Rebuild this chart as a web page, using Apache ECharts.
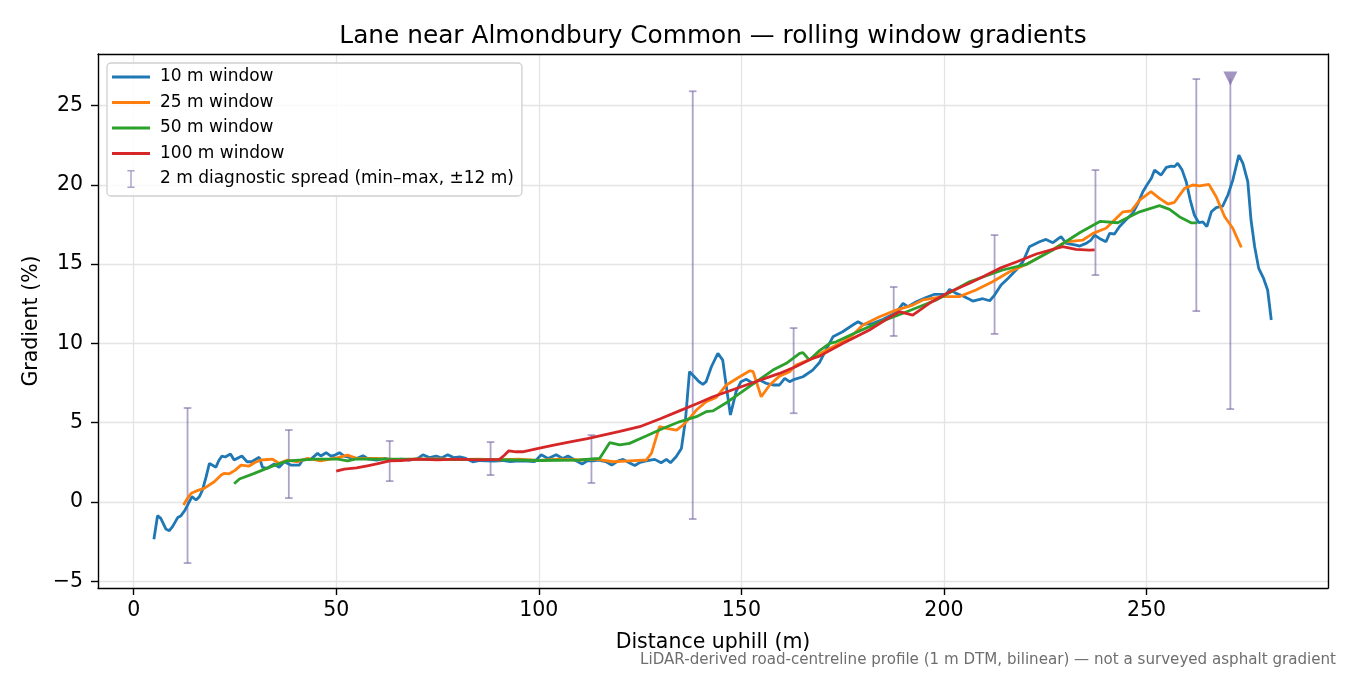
<!DOCTYPE html>
<html lang="en">
  <head>
    <meta charset="UTF-8" />
    <title>Rolling window gradients</title>
    <script src="https://cdn.jsdelivr.net/npm/echarts@6/dist/echarts.min.js"></script>
    <style>
      html, body { margin: 0; padding: 0; background: #fff; }
    </style>
  </head>
  <body>
    <div id="chart" style="width: 1350px; height: 675px"></div>
  </body>
  <script>
    // distance (m), gradient (%)
    const w10 = [
      [5, -2.35], [5.9, -0.86], [6.7, -1.03], [8, -1.72], [8.8, -1.8], [9.6, -1.55], [10.9, -0.97], [11.7, -0.86],
      [12.7, -0.5], [14.4, 0.34], [15.4, 0.13], [16.2, 0.33], [17, 0.76], [17.9, 1.6], [18.7, 2.44], [20.3, 2.19],
      [21, 2.6], [21.8, 2.9], [22.6, 2.84], [23.9, 3.03], [24.8, 2.65], [26.7, 2.9], [28, 2.54], [29.1, 2.54],
      [31, 2.82], [31.8, 2.19], [33, 2.13], [34.7, 2.4], [35.9, 2.19], [37.2, 2.54], [38.8, 2.33], [40.9, 2.33],
      [41.7, 2.65], [43.7, 2.7], [45.4, 3.07], [46.2, 2.9], [47.5, 3.11], [48.7, 2.9], [49.7, 2.96], [50.8, 3.11],
      [52, 2.9], [53.5, 2.8], [55, 2.75], [56.6, 2.92], [58, 2.7], [60, 2.65], [62, 2.75], [64, 2.62], [66, 2.7],
      [68, 2.65], [70, 2.72], [71.4, 2.98], [73, 2.8], [74.7, 2.9], [76, 2.78], [77.5, 2.98], [79, 2.8], [80.5, 2.85],
      [82, 2.75], [83.7, 2.54], [85.5, 2.62], [87, 2.6], [89, 2.58], [91, 2.62], [93, 2.55], [95, 2.6], [97, 2.58],
      [99, 2.55], [100.6, 2.98], [102.3, 2.75], [104.3, 2.98], [105.9, 2.75], [107.2, 2.9], [109.2, 2.6], [110.7, 2.4],
      [112, 2.6], [113.4, 2.6], [114.7, 2.65], [116.5, 2.55], [118, 2.33], [119.6, 2.6], [120.8, 2.69], [122.2, 2.5],
      [123.7, 2.3], [125, 2.5], [126.5, 2.6], [128.6, 2.69], [130.2, 2.48], [131.5, 2.69], [132.5, 2.48], [133.9, 2.86],
      [135.2, 3.38], [136.2, 5.17], [137.2, 8.22], [138.4, 7.9], [139.5, 7.6], [140.5, 7.42], [141.3, 7.59], [142.6, 8.53],
      [144.2, 9.38], [145.4, 8.95], [146.3, 7.27], [147.3, 5.49], [148.7, 6.96], [149.9, 7.59], [151.2, 7.74], [152.9, 7.48],
      [154.5, 7.69], [156.2, 7.48], [157.8, 7.38], [159.4, 7.38], [160.7, 7.8], [161.9, 7.59], [163.1, 7.74], [165.2, 7.9],
      [167.6, 8.32], [169.3, 8.8], [170.9, 9.6], [172.6, 10.42], [175, 10.74], [177.5, 11.16], [178.8, 11.37], [180, 11.2],
      [182.5, 11.27], [185, 11.52], [188.2, 11.94], [189.9, 12.53], [191.1, 12.32], [193.2, 12.63], [195.6, 12.9], [197.7, 13.1],
      [200.6, 13.11], [201.4, 13.41], [203, 13.16], [204.7, 12.99], [205.9, 12.84], [207.1, 12.67], [209.6, 12.82], [211.3, 12.69],
      [212.5, 13.05], [214.1, 13.68], [215.8, 14.1], [217.8, 14.63], [219.5, 15.15], [221.1, 16.1], [223.6, 16.41], [225.2, 16.56],
      [226.9, 16.35], [228.9, 16.73], [230.2, 16.31], [232.6, 16.2], [233.5, 16.14], [235.1, 16.31], [236.3, 16.52], [237.2, 16.83],
      [238.4, 16.62], [240, 16.41], [240.9, 16.94], [242.1, 16.9], [243.3, 17.36], [245, 17.82], [246.6, 18.2], [247.9, 18.83],
      [249.1, 19.57], [250.1, 19.99], [251.2, 20.41], [252, 20.93], [253.6, 20.62], [254.9, 21.1], [256.1, 21.18], [256.9, 21.15],
      [257.7, 21.36], [258.8, 20.93], [259.8, 20.2], [260.8, 19.04], [261.8, 18.1], [262.9, 17.61], [263.9, 17.67], [264.9, 17.36],
      [266, 18.3], [267.2, 18.56], [268.8, 18.66], [270.1, 19.36], [271.3, 20.3], [272.8, 21.88], [273.8, 21.36], [275, 20.2],
      [275.8, 17.78], [276.7, 16.1], [277.7, 14.73], [278.9, 14.1], [279.9, 13.37], [280.8, 11.48]
    ]
    const w25 = [
      [12.3, -0.19], [13.2, 0.2], [14.2, 0.55], [15.5, 0.7], [17.4, 0.86], [19.9, 1.28], [21.6, 1.7], [22.4, 1.81],
      [23.6, 1.78], [25, 2.0], [26.5, 2.33], [28.5, 2.27], [29.8, 2.48], [31.4, 2.65], [34.3, 2.7], [35.9, 2.44],
      [38, 2.65], [40.5, 2.54], [42.9, 2.75], [46.2, 2.6], [50.4, 2.8], [52.8, 2.96], [55, 2.75], [60, 2.75],
      [65, 2.68], [70, 2.7], [75, 2.72], [80, 2.68], [85, 2.7], [90, 2.66], [95, 2.7], [100, 2.62], [105, 2.7],
      [110, 2.65], [114, 2.7], [118.3, 2.54], [122.4, 2.6], [126.5, 2.65], [127.8, 3.07], [129.8, 4.75], [131.5, 4.64],
      [134, 4.54], [135.6, 4.85], [137.2, 5.28], [138.9, 5.8], [141.3, 6.32], [143.8, 6.6], [146.3, 7.38], [149.6, 7.9],
      [152.1, 8.28], [152.9, 8.22], [154.9, 6.64], [157, 7.38], [159.4, 7.94], [161.9, 8.22], [163.5, 8.64], [167.6, 9.06],
      [169.3, 9.33], [171.8, 9.68], [175, 10.1], [177.5, 10.53], [180, 11.16], [184.1, 11.68], [188.2, 12.1], [192.3, 12.42],
      [194.8, 12.74], [199.7, 12.95], [203.8, 12.95], [207.9, 13.37], [212, 13.89], [216.2, 14.52], [220.3, 14.98], [225.2, 15.68],
      [230.1, 16.41], [234.3, 16.52], [236.8, 16.94], [240, 17.26], [244.2, 18.3], [246.2, 18.35], [248.3, 19.04], [251.1, 19.57],
      [253.2, 19.15], [255.3, 18.79], [256.9, 18.9], [259.4, 19.78], [261.4, 19.99], [263.1, 19.93], [265.4, 20.03], [267.2, 19.25],
      [269.3, 17.99], [271.3, 17.26], [273.4, 16.06]
    ]
    const w50 = [
      [24.8, 1.15], [26.1, 1.45], [29.8, 1.81], [33.9, 2.23], [38, 2.6], [44.6, 2.7], [50.4, 2.7], [52.8, 2.6],
      [55, 2.72], [60, 2.7], [70, 2.7], [80, 2.68], [90, 2.68], [100, 2.62], [110, 2.65], [115, 2.75], [117.5, 3.74],
      [120, 3.6], [122.4, 3.7], [126.5, 4.16], [130.6, 4.64], [134.7, 5.06], [138.9, 5.38], [141.3, 5.7], [143, 5.75],
      [146.3, 6.26], [149.6, 6.85], [153.7, 7.59], [157.8, 8.32], [161.1, 8.75], [164.4, 9.38], [165.2, 9.42], [166.8, 8.95],
      [169.3, 9.55], [171.8, 10.0], [173.4, 10.1], [177.5, 10.6], [181.6, 11.06], [185.7, 11.5], [189.9, 11.9], [198.1, 12.74],
      [206.3, 13.89], [214.5, 14.63], [220.3, 14.98], [226.9, 15.89], [233.5, 16.98], [238.6, 17.7], [242.9, 17.61], [245.8, 17.99],
      [248.3, 18.3], [253.2, 18.69], [255.7, 18.45], [258.1, 17.99], [261, 17.61], [262.5, 17.6]
    ]
    const w100 = [
      [50, 1.95], [52, 2.08], [55, 2.15], [58, 2.3], [60, 2.4], [63.2, 2.6], [66, 2.62], [70, 2.7], [75, 2.66],
      [80, 2.7], [85, 2.66], [90.3, 2.69], [91.5, 2.95], [92.6, 3.23], [94.4, 3.17], [96, 3.17], [100.2, 3.4], [104, 3.6],
      [108.4, 3.82], [112, 4.0], [116.7, 4.27], [120, 4.45], [124.9, 4.75], [130, 5.25], [134.7, 5.75], [139, 6.2],
      [143, 6.64], [147, 7.0], [151.2, 7.38], [155.3, 7.75], [159.4, 8.11], [163.5, 8.55], [167.6, 9.06], [169.3, 9.2],
      [175, 10.0], [181.6, 10.85], [186, 11.55], [189, 12.0], [192.3, 11.79], [196.4, 12.53], [201, 13.2], [206.3, 13.79],
      [210, 14.25], [213.7, 14.73], [218, 15.15], [222.8, 15.64], [229.3, 16.1], [232.6, 15.93], [235.9, 15.89], [237.2, 15.9]
    ]

    // 2 m diagnostic spread: centre distance, min, max
    const spreadX = [13.3, 38.3, 63.2, 88.1, 113, 138, 162.9, 187.6, 212.5, 237.4, 262.3, 270.7]
    const spreadLo = [-3.85, 0.25, 1.32, 1.7, 1.2, -1.07, 5.6, 10.47, 10.6, 14.31, 12.04, 5.86]
    const spreadHi = [5.93, 4.54, 3.85, 3.78, 4.22, 25.9, 10.97, 13.56, 16.83, 20.93, 26.67, 26.7]
    const spreadClipped = [false, false, false, false, false, false, false, false, false, false, false, true]

    const xTicks = [0, 50, 100, 150, 200, 250]
    const yTicks = [-5, 0, 5, 10, 15, 20, 25]

    const colors = ['#1f77b4', '#ff7f0e', '#2ca02c', '#d62728']
    const spreadColor = 'rgba(118,100,164,0.6)'
    const font = 'DejaVu Sans'
    const lineIcon = 'path://M0,0H38V3H0Z'

    const chart = echarts.init(document.getElementById('chart'))

    const spreadData = spreadX.map((x, i) => [x, spreadLo[i], spreadHi[i], spreadClipped[i] ? 1 : 0])
    const overflow = spreadX.map((x, i) => [x, spreadHi[i]]).filter((p, i) => spreadClipped[i])

    function renderSpread(params, api) {
      const lo = api.coord([api.value(0), api.value(1)])
      const hi = api.coord([api.value(0), api.value(2)])
      const clipped = api.value(3) === 1
      const cap = 3.8
      const style = { stroke: spreadColor, lineWidth: 1.8 }
      const children = [
        { type: 'line', shape: { x1: lo[0], y1: lo[1], x2: hi[0], y2: hi[1] }, style },
        { type: 'line', shape: { x1: lo[0] - cap, y1: lo[1], x2: lo[0] + cap, y2: lo[1] }, style }
      ]
      if (!clipped) {
        children.push({ type: 'line', shape: { x1: hi[0] - cap, y1: hi[1], x2: hi[0] + cap, y2: hi[1] }, style })
      }
      return { type: 'group', children }
    }

    const lineSeries = (name, data, color) => ({
      name,
      type: 'line',
      data,
      symbol: 'none',
      lineStyle: { color, width: 2.8 },
      itemStyle: { color },
      z: 3
    })

    const minus = v => String(v).replace('-', '\u2212')

    const option = {
      animation: false,
      backgroundColor: '#fff',
      textStyle: { fontFamily: font },
      title: {
        text: 'Lane near Almondbury Common \u2014 rolling window gradients',
        left: 708,
        textAlign: 'center',
        top: 19,
        textStyle: { fontFamily: font, fontSize: 24.8, fontWeight: 'normal', color: '#000' }
      },
      legend: {
        orient: 'vertical',
        left: 107,
        top: 63,
        padding: [5, 8, 8, 5],
        itemGap: 7.5,
        itemWidth: 38,
        itemHeight: 18,
        symbolKeepAspect: true,
        backgroundColor: 'rgba(255,255,255,0.85)',
        borderColor: '#d0d0d0',
        borderWidth: 1.3,
        borderRadius: 4,
        textStyle: { fontFamily: font, fontSize: 17, lineHeight: 18, color: '#000', padding: [0, 0, 0, 5] },
        data: [
          { name: '10 m window', icon: lineIcon },
          { name: '25 m window', icon: lineIcon },
          { name: '50 m window', icon: lineIcon },
          { name: '100 m window', icon: lineIcon },
          { name: '2 m diagnostic spread (min\u2013max, \u00b112 m)', icon: 'path://M0,0H8V1.6H4.8V18.4H8V20H0V18.4H3.2V1.6H0Z', itemStyle: { color: spreadColor } }
        ]
      },
      grid: { left: 98, right: 22, top: 54, bottom: 87, containLabel: false },
      xAxis: [
        {
          type: 'value',
          min: -8.8,
          max: 294.8,
          name: 'Distance uphill (m)',
          nameLocation: 'middle',
          nameGap: 44,
          nameTextStyle: { fontFamily: font, fontSize: 20.5, color: '#000' },
          axisLine: { show: true, onZero: false, lineStyle: { color: '#000', width: 1.4 } },
          axisTick: { show: true, length: 7, customValues: xTicks, lineStyle: { color: '#000', width: 1.4 } },
          axisLabel: { customValues: xTicks, fontFamily: font, fontSize: 20.5, color: '#000', margin: 12 },
          splitLine: { show: true, lineStyle: { color: '#e4e4e4', width: 1.3 } }
        },
        {
          type: 'value',
          position: 'top',
          min: -8.8,
          max: 294.8,
          axisLine: { show: true, onZero: false, lineStyle: { color: '#000', width: 1.4 } },
          axisTick: { show: false },
          axisLabel: { show: false },
          splitLine: { show: false }
        }
      ],
      yAxis: [
        {
          type: 'value',
          min: -5.42,
          max: 28.25,
          name: 'Gradient (%)',
          nameLocation: 'middle',
          nameGap: 53,
          nameTextStyle: { fontFamily: font, fontSize: 20.5, color: '#000' },
          axisLine: { show: true, onZero: false, lineStyle: { color: '#000', width: 1.4 } },
          axisTick: { show: true, length: 7, customValues: yTicks, lineStyle: { color: '#000', width: 1.4 } },
          axisLabel: { customValues: yTicks, fontFamily: font, fontSize: 20.5, color: '#000', margin: 15, formatter: minus },
          splitLine: { show: true, lineStyle: { color: '#e4e4e4', width: 1.3 } }
        },
        {
          type: 'value',
          position: 'right',
          min: -5.42,
          max: 28.25,
          axisLine: { show: true, onZero: false, lineStyle: { color: '#000', width: 1.4 } },
          axisTick: { show: false },
          axisLabel: { show: false },
          splitLine: { show: false }
        }
      ],
      graphic: [
        {
          type: 'text',
          right: 14,
          top: 653,
          style: {
            text: 'LiDAR-derived road-centreline profile (1 m DTM, bilinear) \u2014 not a surveyed asphalt gradient',
            fontFamily: font,
            fontSize: 15.1,
            fill: '#6e6e6e'
          }
        }
      ],
      series: [
        lineSeries('10 m window', w10, colors[0]),
        lineSeries('25 m window', w25, colors[1]),
        lineSeries('50 m window', w50, colors[2]),
        lineSeries('100 m window', w100, colors[3]),
        {
          name: '2 m diagnostic spread (min\u2013max, \u00b112 m)',
          type: 'custom',
          renderItem: renderSpread,
          data: spreadData,
          encode: { x: 0, y: [1, 2] },
          itemStyle: { color: spreadColor },
          z: 2
        },
        {
          name: 'overflow',
          type: 'scatter',
          data: overflow,
          symbol: 'triangle',
          symbolRotate: 180,
          symbolSize: 14,
          itemStyle: { color: 'rgba(118,100,164,0.85)' },
          z: 4
        }
      ]
    }
    chart.setOption(option)
  </script>
</html>
